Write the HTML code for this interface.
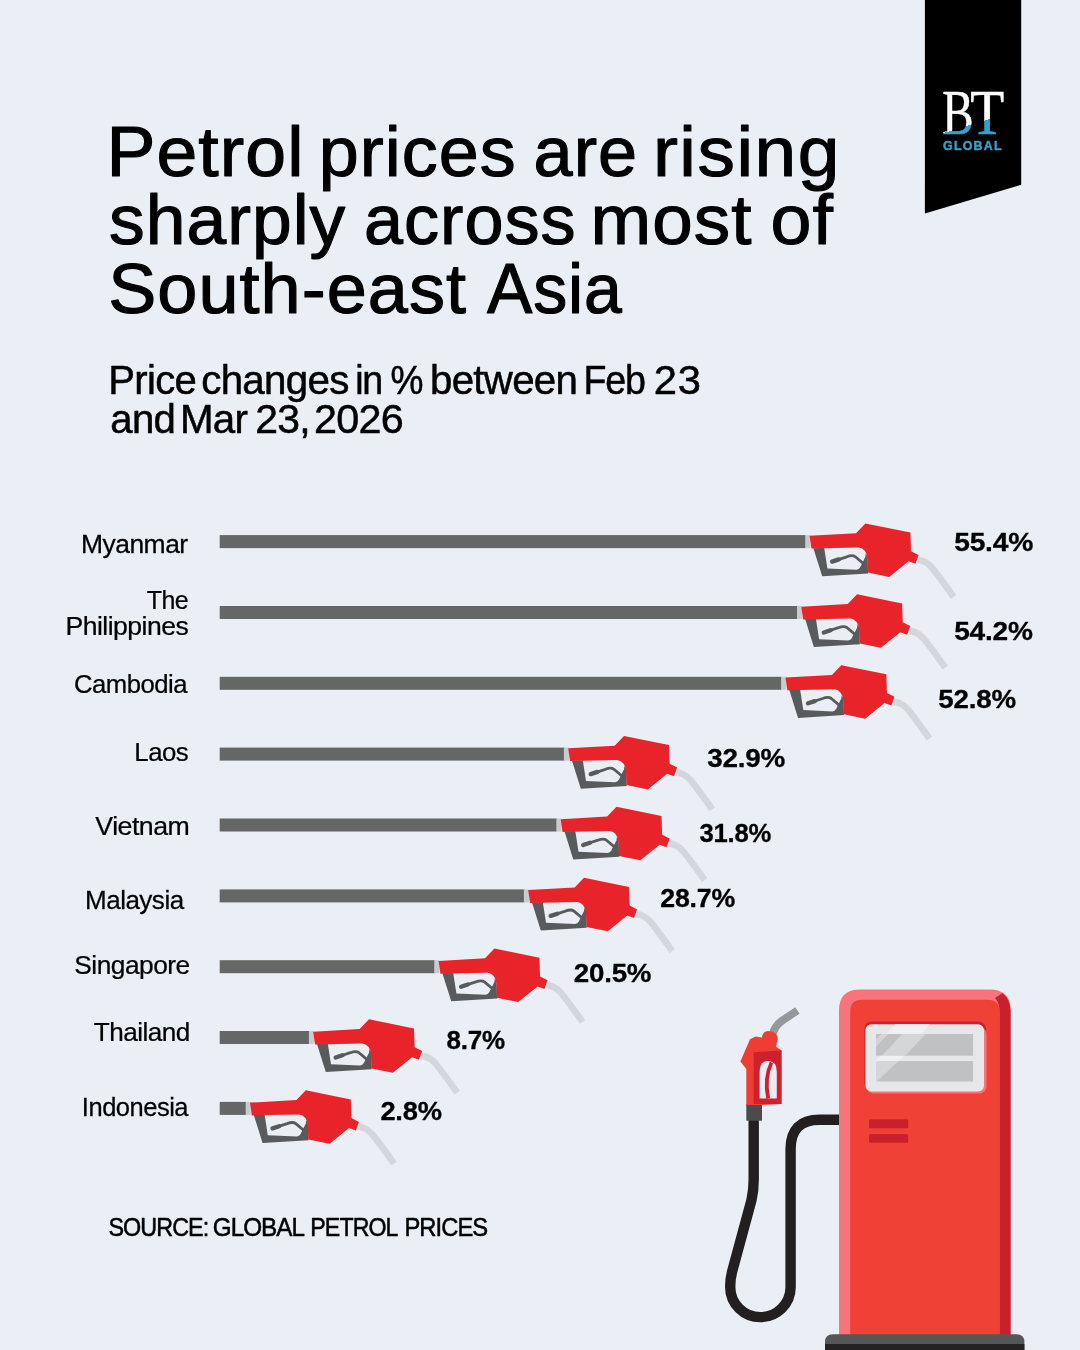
<!DOCTYPE html>
<html><head><meta charset="utf-8"><title>Petrol prices</title>
<style>
html,body{margin:0;padding:0;background:#e9eff5;}
body{width:1080px;height:1350px;position:relative;overflow:hidden;font-family:"Liberation Sans",sans-serif;color:#000}
svg{position:absolute;left:0;top:0}
text{font-family:"Liberation Sans",sans-serif;stroke-linejoin:round}
.t,.s,.l,.v,.c{fill:#000;stroke:#000}
.t{font-size:70px;stroke-width:1.1px}
.s{font-size:40px;stroke-width:0.5px}
.l{font-size:26px;stroke-width:0.25px}
.v{font-size:25.5px;font-weight:bold;stroke-width:0.3px}
.c{font-size:25.5px;stroke-width:0.5px}
.bt{font-family:"Liberation Serif",serif;font-size:64.3px;stroke-width:0.6px}
.gl{font-weight:bold;font-size:12.2px;fill:#3d9fc3;stroke:#3d9fc3;stroke-width:0.45px}
</style></head><body>
<svg width="1080" height="1350" viewBox="0 0 1080 1350">
<g id="logo">
<linearGradient id="gb" gradientUnits="userSpaceOnUse" x1="0.78" y1="-1.68" x2="1.22" y2="0.28"><stop offset="0.5" stop-color="#ffffff"/><stop offset="0.5" stop-color="#3a9fc9"/></linearGradient>
<linearGradient id="gt" gradientUnits="userSpaceOnUse" x1="-31.95" y1="-1.67" x2="-31.44" y2="0.27"><stop offset="0.5" stop-color="#ffffff"/><stop offset="0.5" stop-color="#3a9fc9"/></linearGradient>
<path d="M924.9 0 L1021.2 0 L1021.2 184.7 L924.9 213.4 Z" fill="#000"/>
<text class="bt" fill="url(#gb)" stroke="url(#gb)" transform="translate(942.27,133.9) scale(0.7314,1)">B</text>
<text class="bt" fill="url(#gt)" stroke="url(#gt)" transform="translate(970.35,133.9) scale(0.8628,1)">T</text>
<text class="gl" transform="translate(943,150.1) scale(1.019,1)" letter-spacing="1.2">GLOBAL</text>
</g>

<g id="title">
<g class="line">
<text class="t" transform="translate(106.46,175.8) scale(1.0486,1)" letter-spacing="1.0">Petrol</text>
<text class="t" transform="translate(318.72,175.8) scale(1.0272,1)" letter-spacing="1.0">prices</text>
<text class="t" transform="translate(533.59,175.8) scale(1.0040,1)" letter-spacing="1.0">are</text>
<text class="t" transform="translate(652.92,175.8) scale(1.0700,1)" letter-spacing="1.4">rising</text>
</g>
<g class="line">
<text class="t" transform="translate(108.96,244.4) scale(1.0202,1)" letter-spacing="1.0">sharply</text>
<text class="t" transform="translate(364.00,244.4) scale(1.0018,1)" letter-spacing="1.0">across</text>
<text class="t" transform="translate(590.54,244.4) scale(1.0397,1)" letter-spacing="1.0">most</text>
<text class="t" transform="translate(770.40,244.4) scale(1.0517,1)" letter-spacing="1.0">of</text>
</g>
<g class="line">
<text class="t" transform="translate(108.19,313.2) scale(1.0297,1)" letter-spacing="1.0">South-east</text>
<text class="t" transform="translate(486.98,313.2) scale(0.9717,1)" letter-spacing="0.9">Asia</text>
</g>
</g>
<g id="subtitle">
<g class="line">
<text class="s" transform="translate(108.30,393.8) scale(1.0012,1)" letter-spacing="-0.7">Price</text>
<text class="s" transform="translate(201.19,393.8) scale(1.0076,1)" letter-spacing="-0.7">changes</text>
<text class="s" transform="translate(355.32,393.8) scale(0.9421,1)" letter-spacing="-1.64">in</text>
<text class="s" transform="translate(390.57,393.8) scale(0.9284,1)" letter-spacing="-0.7">%</text>
<text class="s" transform="translate(429.99,393.8) scale(1.0056,1)" letter-spacing="-0.7">between</text>
<text class="s" transform="translate(583.38,393.8) scale(0.9398,1)" letter-spacing="-1.21">Feb</text>
<text class="s" transform="translate(653.66,393.8) scale(1.0442,1)" letter-spacing="0.93">23</text>
</g>
<g class="line">
<text class="s" transform="translate(110.30,433.2) scale(1.0032,1)" letter-spacing="-0.7">and</text>
<text class="s" transform="translate(179.98,433.2) scale(1.0069,1)" letter-spacing="-0.7">Mar</text>
<text class="s" transform="translate(255.19,433.2) scale(1.0237,1)" letter-spacing="-0.7">23,</text>
<text class="s" transform="translate(313.88,433.2) scale(1.0340,1)" letter-spacing="-0.7">2026</text>
</g>
</g>
<g id="chart">
<rect x="219.7" y="535.1" width="586.1" height="13" fill="#656766"/>
<g transform="translate(805.8,535.1)">
<rect x="-0.5" y="0" width="5" height="13" fill="#c9cbcc"/>
<g transform="translate(0,1.1)">
<path d="M112.5 23.8 Q119.6 24.6 125.5 30.8 Q131 37 147.8 60.6" fill="none" stroke="#d3d7db" stroke-width="6.6"/>
<path d="M7.6 12 L16.4 40 L62.3 37.2 L61.7 20 L55 10 Z" fill="#595a5c"/>
<path d="M18.3 11 L21.6 32.2 L50.6 33.5 Q53.2 33.4 54.4 31 L59.6 20.6 L60.5 12 L50 9 Z" fill="#e9eff5"/>
<path d="M26.3 25.4 L41 20.6 Q46.6 18.4 49.6 20.6 L57.2 27" fill="none" stroke="#595a5c" stroke-width="2.8" stroke-linecap="round" stroke-linejoin="round"/>
<path d="M26.3 25.4 L33 23.2" fill="none" stroke="#595a5c" stroke-width="4.3" stroke-linecap="round"/>
<path d="M3.8 -0.4 L50.25 -3 L59.6 -12.75 L104.6 -3.6 L105.25 15.1 L112.75 18.9 L109.6 27.6 L102.75 25.1 L83.4 40.75 L62.1 36.4 L61.5 22 Q60.5 12.5 52.75 11.4 L5.6 12.4 Z" fill="#e9232a"/>
</g>
</g>
<rect x="219.7" y="606.0" width="577.8" height="13" fill="#656766"/>
<g transform="translate(797.5,606.0)">
<rect x="-0.5" y="0" width="5" height="13" fill="#c9cbcc"/>
<g transform="translate(0,1.1)">
<path d="M112.5 23.8 Q119.6 24.6 125.5 30.8 Q131 37 147.8 60.6" fill="none" stroke="#d3d7db" stroke-width="6.6"/>
<path d="M7.6 12 L16.4 40 L62.3 37.2 L61.7 20 L55 10 Z" fill="#595a5c"/>
<path d="M18.3 11 L21.6 32.2 L50.6 33.5 Q53.2 33.4 54.4 31 L59.6 20.6 L60.5 12 L50 9 Z" fill="#e9eff5"/>
<path d="M26.3 25.4 L41 20.6 Q46.6 18.4 49.6 20.6 L57.2 27" fill="none" stroke="#595a5c" stroke-width="2.8" stroke-linecap="round" stroke-linejoin="round"/>
<path d="M26.3 25.4 L33 23.2" fill="none" stroke="#595a5c" stroke-width="4.3" stroke-linecap="round"/>
<path d="M3.8 -0.4 L50.25 -3 L59.6 -12.75 L104.6 -3.6 L105.25 15.1 L112.75 18.9 L109.6 27.6 L102.75 25.1 L83.4 40.75 L62.1 36.4 L61.5 22 Q60.5 12.5 52.75 11.4 L5.6 12.4 Z" fill="#e9232a"/>
</g>
</g>
<rect x="219.7" y="676.8" width="562.0" height="13" fill="#656766"/>
<g transform="translate(781.7,676.8)">
<rect x="-0.5" y="0" width="5" height="13" fill="#c9cbcc"/>
<g transform="translate(0,1.1)">
<path d="M112.5 23.8 Q119.6 24.6 125.5 30.8 Q131 37 147.8 60.6" fill="none" stroke="#d3d7db" stroke-width="6.6"/>
<path d="M7.6 12 L16.4 40 L62.3 37.2 L61.7 20 L55 10 Z" fill="#595a5c"/>
<path d="M18.3 11 L21.6 32.2 L50.6 33.5 Q53.2 33.4 54.4 31 L59.6 20.6 L60.5 12 L50 9 Z" fill="#e9eff5"/>
<path d="M26.3 25.4 L41 20.6 Q46.6 18.4 49.6 20.6 L57.2 27" fill="none" stroke="#595a5c" stroke-width="2.8" stroke-linecap="round" stroke-linejoin="round"/>
<path d="M26.3 25.4 L33 23.2" fill="none" stroke="#595a5c" stroke-width="4.3" stroke-linecap="round"/>
<path d="M3.8 -0.4 L50.25 -3 L59.6 -12.75 L104.6 -3.6 L105.25 15.1 L112.75 18.9 L109.6 27.6 L102.75 25.1 L83.4 40.75 L62.1 36.4 L61.5 22 Q60.5 12.5 52.75 11.4 L5.6 12.4 Z" fill="#e9232a"/>
</g>
</g>
<rect x="219.7" y="747.6" width="344.7" height="13" fill="#656766"/>
<g transform="translate(564.4,747.6)">
<rect x="-0.5" y="0" width="5" height="13" fill="#c9cbcc"/>
<g transform="translate(0,1.1)">
<path d="M112.5 23.8 Q119.6 24.6 125.5 30.8 Q131 37 147.8 60.6" fill="none" stroke="#d3d7db" stroke-width="6.6"/>
<path d="M7.6 12 L16.4 40 L62.3 37.2 L61.7 20 L55 10 Z" fill="#595a5c"/>
<path d="M18.3 11 L21.6 32.2 L50.6 33.5 Q53.2 33.4 54.4 31 L59.6 20.6 L60.5 12 L50 9 Z" fill="#e9eff5"/>
<path d="M26.3 25.4 L41 20.6 Q46.6 18.4 49.6 20.6 L57.2 27" fill="none" stroke="#595a5c" stroke-width="2.8" stroke-linecap="round" stroke-linejoin="round"/>
<path d="M26.3 25.4 L33 23.2" fill="none" stroke="#595a5c" stroke-width="4.3" stroke-linecap="round"/>
<path d="M3.8 -0.4 L50.25 -3 L59.6 -12.75 L104.6 -3.6 L105.25 15.1 L112.75 18.9 L109.6 27.6 L102.75 25.1 L83.4 40.75 L62.1 36.4 L61.5 22 Q60.5 12.5 52.75 11.4 L5.6 12.4 Z" fill="#e9232a"/>
</g>
</g>
<rect x="219.7" y="818.5" width="337.2" height="13" fill="#656766"/>
<g transform="translate(556.9,818.5)">
<rect x="-0.5" y="0" width="5" height="13" fill="#c9cbcc"/>
<g transform="translate(0,1.1)">
<path d="M112.5 23.8 Q119.6 24.6 125.5 30.8 Q131 37 147.8 60.6" fill="none" stroke="#d3d7db" stroke-width="6.6"/>
<path d="M7.6 12 L16.4 40 L62.3 37.2 L61.7 20 L55 10 Z" fill="#595a5c"/>
<path d="M18.3 11 L21.6 32.2 L50.6 33.5 Q53.2 33.4 54.4 31 L59.6 20.6 L60.5 12 L50 9 Z" fill="#e9eff5"/>
<path d="M26.3 25.4 L41 20.6 Q46.6 18.4 49.6 20.6 L57.2 27" fill="none" stroke="#595a5c" stroke-width="2.8" stroke-linecap="round" stroke-linejoin="round"/>
<path d="M26.3 25.4 L33 23.2" fill="none" stroke="#595a5c" stroke-width="4.3" stroke-linecap="round"/>
<path d="M3.8 -0.4 L50.25 -3 L59.6 -12.75 L104.6 -3.6 L105.25 15.1 L112.75 18.9 L109.6 27.6 L102.75 25.1 L83.4 40.75 L62.1 36.4 L61.5 22 Q60.5 12.5 52.75 11.4 L5.6 12.4 Z" fill="#e9232a"/>
</g>
</g>
<rect x="219.7" y="889.4" width="304.7" height="13" fill="#656766"/>
<g transform="translate(524.4,889.4)">
<rect x="-0.5" y="0" width="5" height="13" fill="#c9cbcc"/>
<g transform="translate(0,1.1)">
<path d="M112.5 23.8 Q119.6 24.6 125.5 30.8 Q131 37 147.8 60.6" fill="none" stroke="#d3d7db" stroke-width="6.6"/>
<path d="M7.6 12 L16.4 40 L62.3 37.2 L61.7 20 L55 10 Z" fill="#595a5c"/>
<path d="M18.3 11 L21.6 32.2 L50.6 33.5 Q53.2 33.4 54.4 31 L59.6 20.6 L60.5 12 L50 9 Z" fill="#e9eff5"/>
<path d="M26.3 25.4 L41 20.6 Q46.6 18.4 49.6 20.6 L57.2 27" fill="none" stroke="#595a5c" stroke-width="2.8" stroke-linecap="round" stroke-linejoin="round"/>
<path d="M26.3 25.4 L33 23.2" fill="none" stroke="#595a5c" stroke-width="4.3" stroke-linecap="round"/>
<path d="M3.8 -0.4 L50.25 -3 L59.6 -12.75 L104.6 -3.6 L105.25 15.1 L112.75 18.9 L109.6 27.6 L102.75 25.1 L83.4 40.75 L62.1 36.4 L61.5 22 Q60.5 12.5 52.75 11.4 L5.6 12.4 Z" fill="#e9232a"/>
</g>
</g>
<rect x="219.7" y="960.2" width="215.1" height="13" fill="#656766"/>
<g transform="translate(434.8,960.2)">
<rect x="-0.5" y="0" width="5" height="13" fill="#c9cbcc"/>
<g transform="translate(0,1.1)">
<path d="M112.5 23.8 Q119.6 24.6 125.5 30.8 Q131 37 147.8 60.6" fill="none" stroke="#d3d7db" stroke-width="6.6"/>
<path d="M7.6 12 L16.4 40 L62.3 37.2 L61.7 20 L55 10 Z" fill="#595a5c"/>
<path d="M18.3 11 L21.6 32.2 L50.6 33.5 Q53.2 33.4 54.4 31 L59.6 20.6 L60.5 12 L50 9 Z" fill="#e9eff5"/>
<path d="M26.3 25.4 L41 20.6 Q46.6 18.4 49.6 20.6 L57.2 27" fill="none" stroke="#595a5c" stroke-width="2.8" stroke-linecap="round" stroke-linejoin="round"/>
<path d="M26.3 25.4 L33 23.2" fill="none" stroke="#595a5c" stroke-width="4.3" stroke-linecap="round"/>
<path d="M3.8 -0.4 L50.25 -3 L59.6 -12.75 L104.6 -3.6 L105.25 15.1 L112.75 18.9 L109.6 27.6 L102.75 25.1 L83.4 40.75 L62.1 36.4 L61.5 22 Q60.5 12.5 52.75 11.4 L5.6 12.4 Z" fill="#e9232a"/>
</g>
</g>
<rect x="219.7" y="1031.0" width="89.7" height="13" fill="#656766"/>
<g transform="translate(309.4,1031.0)">
<rect x="-0.5" y="0" width="5" height="13" fill="#c9cbcc"/>
<g transform="translate(0,1.1)">
<path d="M112.5 23.8 Q119.6 24.6 125.5 30.8 Q131 37 147.8 60.6" fill="none" stroke="#d3d7db" stroke-width="6.6"/>
<path d="M7.6 12 L16.4 40 L62.3 37.2 L61.7 20 L55 10 Z" fill="#595a5c"/>
<path d="M18.3 11 L21.6 32.2 L50.6 33.5 Q53.2 33.4 54.4 31 L59.6 20.6 L60.5 12 L50 9 Z" fill="#e9eff5"/>
<path d="M26.3 25.4 L41 20.6 Q46.6 18.4 49.6 20.6 L57.2 27" fill="none" stroke="#595a5c" stroke-width="2.8" stroke-linecap="round" stroke-linejoin="round"/>
<path d="M26.3 25.4 L33 23.2" fill="none" stroke="#595a5c" stroke-width="4.3" stroke-linecap="round"/>
<path d="M3.8 -0.4 L50.25 -3 L59.6 -12.75 L104.6 -3.6 L105.25 15.1 L112.75 18.9 L109.6 27.6 L102.75 25.1 L83.4 40.75 L62.1 36.4 L61.5 22 Q60.5 12.5 52.75 11.4 L5.6 12.4 Z" fill="#e9232a"/>
</g>
</g>
<rect x="219.7" y="1101.9" width="26.5" height="13" fill="#656766"/>
<g transform="translate(246.2,1101.9)">
<rect x="-0.5" y="0" width="5" height="13" fill="#c9cbcc"/>
<g transform="translate(0,1.1)">
<path d="M112.5 23.8 Q119.6 24.6 125.5 30.8 Q131 37 147.8 60.6" fill="none" stroke="#d3d7db" stroke-width="6.6"/>
<path d="M7.6 12 L16.4 40 L62.3 37.2 L61.7 20 L55 10 Z" fill="#595a5c"/>
<path d="M18.3 11 L21.6 32.2 L50.6 33.5 Q53.2 33.4 54.4 31 L59.6 20.6 L60.5 12 L50 9 Z" fill="#e9eff5"/>
<path d="M26.3 25.4 L41 20.6 Q46.6 18.4 49.6 20.6 L57.2 27" fill="none" stroke="#595a5c" stroke-width="2.8" stroke-linecap="round" stroke-linejoin="round"/>
<path d="M26.3 25.4 L33 23.2" fill="none" stroke="#595a5c" stroke-width="4.3" stroke-linecap="round"/>
<path d="M3.8 -0.4 L50.25 -3 L59.6 -12.75 L104.6 -3.6 L105.25 15.1 L112.75 18.9 L109.6 27.6 L102.75 25.1 L83.4 40.75 L62.1 36.4 L61.5 22 Q60.5 12.5 52.75 11.4 L5.6 12.4 Z" fill="#e9232a"/>
</g>
</g>
</g>
<g id="labels">
<g class="line">
<text class="l" transform="translate(80.96,553) scale(1.0183,1)" letter-spacing="-0.5">Myanmar</text>
</g>
<g class="line">
<text class="l" transform="translate(146.70,609.2) scale(0.9605,1)" letter-spacing="-0.5">The</text>
</g>
<g class="line">
<text class="l" transform="translate(65.46,635.3) scale(1.0212,1)" letter-spacing="-0.5">Philippines</text>
</g>
<g class="line">
<text class="l" transform="translate(74.01,693.3) scale(0.9879,1)" letter-spacing="-0.5">Cambodia</text>
</g>
<g class="line">
<text class="l" transform="translate(134.32,760.8) scale(0.9919,1)" letter-spacing="-0.5">Laos</text>
</g>
<g class="line">
<text class="l" transform="translate(95.30,834.7) scale(1.0288,1)" letter-spacing="-0.5">Vietnam</text>
</g>
<g class="line">
<text class="l" transform="translate(85.00,908.7) scale(1.0006,1)" letter-spacing="-0.5">Malaysia</text>
</g>
<g class="line">
<text class="l" transform="translate(74.29,974.2) scale(1.0129,1)" letter-spacing="-0.5">Singapore</text>
</g>
<g class="line">
<text class="l" transform="translate(93.70,1041.3) scale(1.0053,1)" letter-spacing="-0.5">Thailand</text>
</g>
<g class="line">
<text class="l" transform="translate(81.84,1115.8) scale(0.9813,1)" letter-spacing="-0.5">Indonesia</text>
</g>
</g>
<g id="values">
<g class="line">
<text class="v" transform="translate(954.16,551.4) scale(1.1076,1)" letter-spacing="-0.2">55.4%</text>
</g>
<g class="line">
<text class="v" transform="translate(954.16,639.6) scale(1.1019,1)" letter-spacing="-0.2">54.2%</text>
</g>
<g class="line">
<text class="v" transform="translate(938.37,708.3) scale(1.0877,1)" letter-spacing="-0.2">52.8%</text>
</g>
<g class="line">
<text class="v" transform="translate(707.18,766.7) scale(1.0918,1)" letter-spacing="-0.2">32.9%</text>
</g>
<g class="line">
<text class="v" transform="translate(699.43,841.7) scale(1.0052,1)" letter-spacing="-0.2">31.8%</text>
</g>
<g class="line">
<text class="v" transform="translate(660.31,906.7) scale(1.0478,1)" letter-spacing="-0.2">28.7%</text>
</g>
<g class="line">
<text class="v" transform="translate(573.78,981.9) scale(1.0876,1)" letter-spacing="-0.2">20.5%</text>
</g>
<g class="line">
<text class="v" transform="translate(446.58,1048.5) scale(1.0197,1)" letter-spacing="-0.2">8.7%</text>
</g>
<g class="line">
<text class="v" transform="translate(380.39,1120.2) scale(1.0703,1)" letter-spacing="-0.2">2.8%</text>
</g>
</g>
<g id="source">
<g class="line">
<text class="c" transform="translate(108.42,1236.0) scale(0.9156,1)" letter-spacing="-1.0">SOURCE:</text>
<text class="c" transform="translate(212.75,1236.0) scale(0.9509,1)" letter-spacing="-1.0">GLOBAL</text>
<text class="c" transform="translate(310.33,1236.0) scale(0.9086,1)" letter-spacing="-1.0">PETROL</text>
<text class="c" transform="translate(404.38,1236.0) scale(0.9323,1)" letter-spacing="-1.0">PRICES</text>
</g>
</g>
<g id="pump">
<path d="M842 1119.8 L819.6 1119.8 Q790.6 1119.8 790.6 1149 L790.6 1287 A30.2 30.2 0 0 1 730.2 1287 Q730.2 1279 732 1272 L751.5 1200 Q753.7 1190 753.7 1180 L753.7 1110" fill="none" stroke="#231f20" stroke-width="10.4"/>
<path d="M772.5 1035 Q774.5 1026 782 1020.8 Q789 1016 797.4 1010.5" fill="none" stroke="#96989a" stroke-width="7.8"/>
<rect x="746.3" y="1104" width="15.7" height="16.7" fill="#4b4b4d"/>
<path d="M746.3 1105 L746.3 1068.9 L740.4 1061.5 L750 1039.3 L755.6 1036.5 L762 1037.4 Q763 1031 768 1031 Q777 1031 777.8 1039 L776 1046.7 L781.5 1050.4 L781.5 1104 L762 1105 Z" fill="#ee3d32"/>
<path d="M753.7 1052.2 L781.5 1050.4 L781.5 1104 L753.7 1104 Z" fill="#cf202e"/>
<path d="M759.6 1098.5 L759.6 1072 Q759.6 1061 768 1061 Q776.8 1061 776.8 1072 L776.8 1098.5 Z" fill="#e9edf2"/>
<path d="M771.5 1062.5 Q764 1078 768.2 1098.5" fill="none" stroke="#cf202e" stroke-width="3.8"/>
<path d="M839 1340 L839 1010.4 Q839 989.4 860 989.4 L989.6 989.4 Q1010.6 989.4 1010.6 1010.4 L1010.6 1340 Z" fill="#f9747a"/>
<path d="M999.4 1340 L999.4 1010 Q999.4 1003 995 998 L1002.5 993 Q1010.6 1000 1010.6 1010.4 L1010.6 1340 Z" fill="#c8202c"/>
<path d="M850.2 1340 L850.2 1011.5 Q850.2 999.8 862 999.8 L987.5 999.8 Q999.4 999.8 999.4 1011.5 L999.4 1340 Z" fill="#f04136"/>
<rect x="864.4" y="1021.4" width="121.6" height="69" rx="7.5" fill="#cf202e"/>
<rect x="866.5" y="1027" width="120" height="66.6" rx="7" fill="#f9747a"/>
<rect x="865.4" y="1024.2" width="118.6" height="67.2" rx="6" fill="#e6e7e8"/>
<rect x="876" y="1034" width="97.1" height="21.7" fill="#bfc1c2"/>
<rect x="876" y="1061.1" width="97.1" height="20.4" fill="#bfc1c2"/>
<path d="M881.1 1034 L888.3 1034 L876 1046.5 L876 1039.4 Z M902.1 1034 L925.6 1034 L905.2 1055.7 L881.8 1055.7 Z M876 1061.1 L898.5 1061.1 L877 1081.5 L876 1081.5 Z" fill="#d3d5d6"/>
<path d="M895 1024.2 L930 1024.2 L921 1034 L886 1034 Z M880.5 1055.7 L904 1055.7 L899 1061.1 L875.5 1061.1 Z" fill="#eff0f1"/>
<rect x="869" y="1119.3" width="39.2" height="9" rx="1.5" fill="#c8202c"/>
<rect x="869" y="1134" width="39.2" height="8.8" rx="1.5" fill="#c8202c"/>
<path d="M825 1350 L825 1342 Q825 1334.3 833 1334.3 L1016.4 1334.3 Q1024.4 1334.3 1024.4 1342 L1024.4 1350 Z" fill="#555658"/>
<rect x="825" y="1344" width="199.4" height="6" fill="#242223"/>
</g>

</svg>
</body></html>
